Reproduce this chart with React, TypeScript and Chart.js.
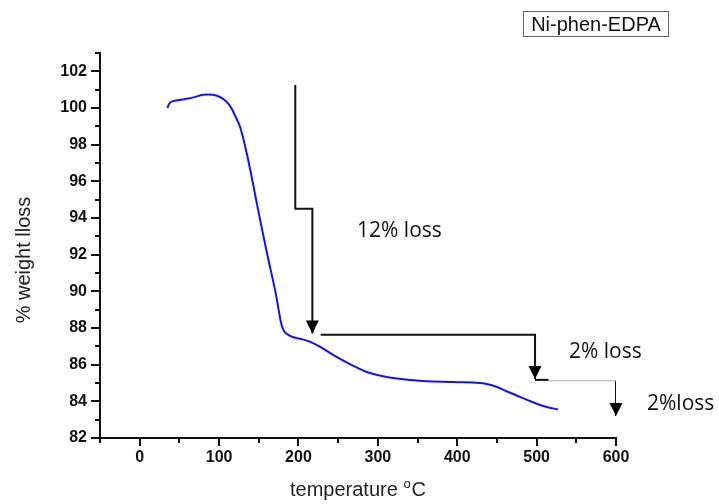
import React, { useEffect, useRef } from "react";
import { Chart, registerables } from "chart.js";

Chart.register(...registerables);

// TGA curve (temperature °C vs % weight)
const temperature = [35, 37, 41, 52, 68, 80, 92, 101, 108, 114, 120, 127, 137, 148, 160, 171, 175, 178, 181, 185, 190, 196, 205, 215, 230, 248, 266, 286, 305, 324, 357, 395, 429, 440, 450, 462, 475, 488, 500, 514, 527];
const weight = [100.0, 100.22, 100.36, 100.45, 100.58, 100.72, 100.72, 100.6, 100.4, 100.1, 99.6, 98.9, 97.1, 94.7, 92.16, 89.97, 89.0, 88.3, 87.9, 87.68, 87.56, 87.47, 87.38, 87.24, 86.9, 86.42, 86.0, 85.6, 85.38, 85.24, 85.11, 85.05, 85.0, 84.92, 84.78, 84.55, 84.32, 84.08, 83.87, 83.68, 83.56];

// step annotation paths (data units)
const step1X = [196, 196, 217.5, 217.5];
const step1Y = [101.25, 94.5, 94.5, 87.7];
const step2X = [228, 498, 498];
const step2Y = [87.63, 87.63, 85.22];
const step3X = [498, 515];
const step3Y = [85.17, 85.17];
const step4X = [515, 600];
const step4Y = [85.12, 85.12];
const step5X = [600, 600];
const step5Y = [85.12, 83.2];

const xTicks = [0, 100, 200, 300, 400, 500, 600];
const yTicks = [82, 84, 86, 88, 90, 92, 94, 96, 98, 100, 102];
const xMinor = [-50, 50, 150, 250, 350, 450, 550];
const yMinor = [83, 85, 87, 89, 91, 93, 95, 97, 99, 101, 103];

const labels = ["12% loss", "2% loss", "2%loss"];
const legendText = "Ni-phen-EDPA";
const yTitle = "% weight lloss";

const pts = (xs: number[], ys: number[]) => xs.map((x, i) => ({ x, y: ys[i] }));

const blackLine = (data: any[], width = 2, color = "#111") => ({
  data,
  borderColor: color,
  borderWidth: width,
  pointRadius: 0,
  showLine: true,
  fill: false,
  tension: 0,
});

const decorPlugin = {
  id: "decor",
  afterDraw(chart: any) {
    const { ctx, scales } = chart;
    const xs = scales.x;
    const ys = scales.y;
    const area = chart.chartArea;
    ctx.save();
    // ticks
    ctx.strokeStyle = "#111";
    ctx.lineWidth = 2;
    ctx.beginPath();
    yTicks.forEach((v) => {
      const p = Math.round(ys.getPixelForValue(v));
      ctx.moveTo(area.left - 9, p);
      ctx.lineTo(area.left, p);
    });
    yMinor.forEach((v) => {
      const p = Math.round(ys.getPixelForValue(v));
      ctx.moveTo(area.left - 5, p);
      ctx.lineTo(area.left, p);
    });
    xTicks.forEach((v) => {
      const p = Math.round(xs.getPixelForValue(v));
      ctx.moveTo(p, area.bottom);
      ctx.lineTo(p, area.bottom + 8);
    });
    xMinor.forEach((v) => {
      const p = Math.round(xs.getPixelForValue(v));
      ctx.moveTo(p, area.bottom);
      ctx.lineTo(p, area.bottom + 5);
    });
    ctx.stroke();

    // arrow heads
    const head = (xv: number, yv: number) => {
      const px = xs.getPixelForValue(xv);
      const py = ys.getPixelForValue(yv);
      ctx.fillStyle = "#000";
      ctx.beginPath();
      ctx.moveTo(px, py);
      ctx.lineTo(px - 6.5, py - 13);
      ctx.lineTo(px + 6.5, py - 13);
      ctx.closePath();
      ctx.fill();
    };
    head(step1X[3], step1Y[3]);
    head(step2X[2], step2Y[2]);
    head(step5X[1], step5Y[1]);

    // annotation texts
    ctx.fillStyle = "#111";
    ctx.font = "21px 'Open Sans'";
    ctx.textAlign = "left";
    ctx.textBaseline = "alphabetic";
    ctx.fillText(labels[0], 357, 237);
    ctx.fillText(labels[1], 569, 358);
    ctx.fillText(labels[2], 647, 410);

    // y title
    ctx.fillStyle = "#222";
    ctx.font = "20px 'Liberation Sans'";
    ctx.save();
    ctx.translate(30, 260);
    ctx.rotate(-Math.PI / 2);
    ctx.textAlign = "center";
    ctx.fillText(yTitle, 0, 0);
    ctx.restore();

    // x title with superscript o
    ctx.textAlign = "left";
    const base = "temperature ";
    const bx = 290;
    const by = 496;
    ctx.fillText(base, bx, by);
    let w = ctx.measureText(base).width;
    ctx.font = "13px 'Liberation Sans'";
    ctx.fillText("o", bx + w, by - 8);
    w += ctx.measureText("o").width + 1;
    ctx.font = "20px 'Liberation Sans'";
    ctx.fillText("C", bx + w, by);

    // legend box
    ctx.strokeStyle = "#666";
    ctx.lineWidth = 1;
    ctx.strokeRect(523.5, 11.5, 145, 25);
    ctx.fillStyle = "#111";
    ctx.font = "20px 'Liberation Sans'";
    ctx.textAlign = "center";
    ctx.fillText(legendText, 596, 31);
    ctx.restore();
  },
};

export default function App() {
  const ref = useRef<HTMLCanvasElement | null>(null);
  useEffect(() => {
    if (!ref.current) return;
    const chart = new Chart(ref.current, {
      type: "scatter",
      data: {
        datasets: [
          {
            data: pts(temperature, weight),
            borderColor: "#1010ff",
            borderWidth: 2,
            pointRadius: 0,
            showLine: true,
            fill: false,
            tension: 0.4,
          } as any,
          blackLine(pts(step1X, step1Y)),
          blackLine(pts(step2X, step2Y)),
          blackLine(pts(step3X, step3Y)),
          blackLine(pts(step4X, step4Y), 1, "#aaa"),
          blackLine(pts(step5X, step5Y)),
        ],
      },
      options: {
        animation: false,
        responsive: false,
        layout: { padding: { top: 53, right: 103, left: 0, bottom: 0 } },
        plugins: { legend: { display: false }, tooltip: { enabled: false } },
        scales: {
          x: {
            type: "linear",
            min: -50,
            max: 600,
            afterBuildTicks: (s: any) => {
              s.ticks = xTicks.map((v) => ({ value: v }));
            },
            afterFit: (s: any) => {
              s.height = 66;
            },
            grid: { display: false, drawTicks: false },
            border: { display: true, color: "#111", width: 2 },
            ticks: {
              padding: 10,
              color: "#111",
              font: { family: "'Liberation Sans'", size: 16, weight: "bold" },
              maxRotation: 0,
            },
          },
          y: {
            type: "linear",
            min: 82,
            max: 103,
            afterBuildTicks: (s: any) => {
              s.ticks = yTicks.map((v) => ({ value: v }));
            },
            afterFit: (s: any) => {
              s.width = 100;
            },
            grid: { display: false, drawTicks: false },
            border: { display: true, color: "#111", width: 2 },
            ticks: {
              padding: 13,
              color: "#111",
              font: { family: "'Liberation Sans'", size: 16, weight: "bold" },
            },
          },
        },
      } as any,
      plugins: [decorPlugin],
    });
    return () => chart.destroy();
  }, []);
  return (
    <div style={{ position: "fixed", left: 0, top: 0, width: 719, height: 504, background: "#fff" }}>
      <canvas ref={ref} width={719} height={504} style={{ width: 719, height: 504, display: "block" }} />
    </div>
  );
}
